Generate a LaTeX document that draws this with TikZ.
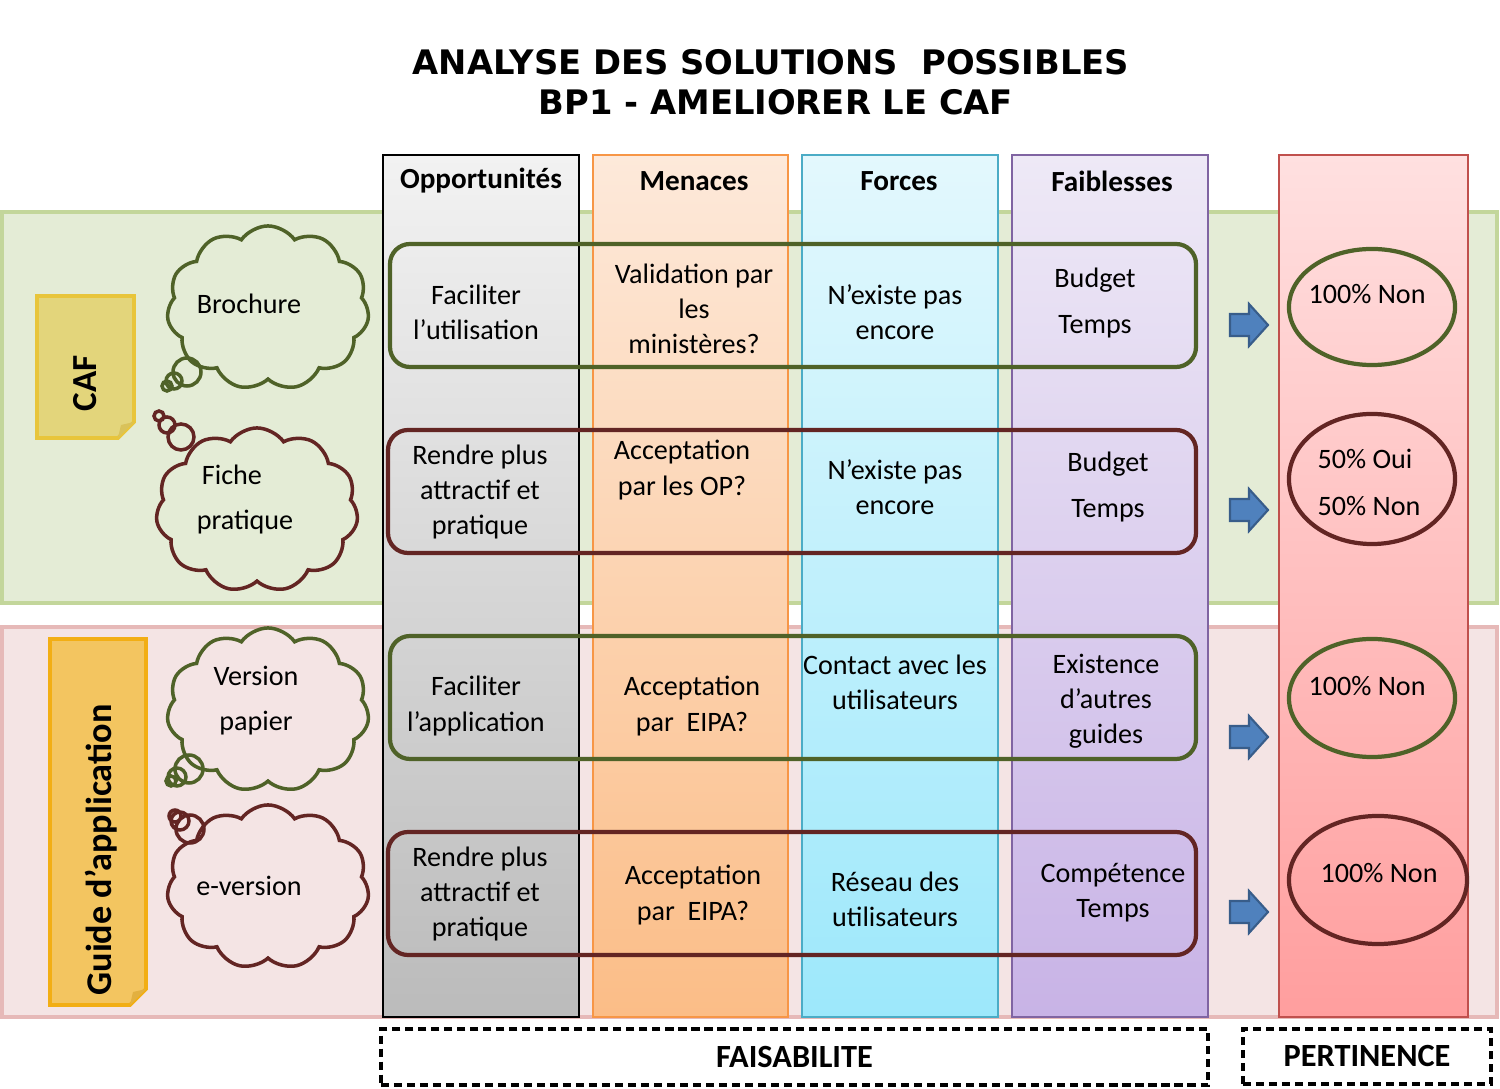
\documentclass[tikz,border=0pt]{standalone}
\usepackage{fontspec}
\setmainfont{Carlito}
\newfontfamily\titlefont{DejaVu Sans}
\usetikzlibrary{shapes.geometric,shapes.symbols}

\definecolor{leafgreen}{HTML}{4F6228}
\definecolor{winered}{HTML}{632523}
\definecolor{bandgreen}{HTML}{E4ECD6}
\definecolor{bandgreenline}{HTML}{C3D69B}
\definecolor{bandpink}{HTML}{F4E4E4}
\definecolor{bandpinkline}{HTML}{E6B9B8}
\definecolor{arrowblue}{HTML}{4F81BD}
\definecolor{arrowline}{HTML}{385D8A}
\definecolor{cafnote}{HTML}{E3D57B}
\definecolor{cafnoteline}{HTML}{E8C53B}
\definecolor{cafnotefold}{HTML}{D9C25A}
\definecolor{guidenote}{HTML}{F3C560}
\definecolor{guidenoteline}{HTML}{F2AE14}
\definecolor{guidenotefold}{HTML}{E2B040}

\begin{document}
\begin{tikzpicture}[x=0.01cm, y=-0.01cm,
    cell/.style={font=\fontsize{8}{10}\selectfont, align=center, inner sep=0pt},
    head/.style={font=\fontsize{8.3}{10}\selectfont\bfseries, inner sep=0pt},
    rowbox/.style={line width=1.2pt, rounded corners=0.2cm},
    bubble/.style={cloud, draw, line width=1pt, cloud puffs=11, cloud puff arc=110,
        aspect=1.2, minimum width=2.02cm, minimum height=1.64cm, inner sep=0pt},
    puff/.style={line width=1pt},
    verdict/.style={ellipse, draw, line width=1.2pt, inner sep=0pt},
    legend/.style={draw, line width=1.1pt, dash pattern=on 2.3pt off 1.4pt, inner sep=0pt,
        font=\fontsize{9.2}{10}\selectfont\bfseries}]

    \useasboundingbox [fill=white] (0, 0) rectangle (1500, 1089);

    % titre
    \node (title1) at (771, 62) [font=\titlefont\fontsize{9.6}{11}\selectfont\bfseries, inner sep=0pt]
        {ANALYSE DES SOLUTIONS \ POSSIBLES};
    \node (title2) at (776, 102) [font=\titlefont\fontsize{9.6}{11}\selectfont\bfseries, inner sep=0pt]
        {BP1 - AMELIORER LE CAF};

    % bandes
    \filldraw [fill=bandgreen, draw=bandgreenline, line width=1pt] (2, 212) rectangle (1497, 603);
    \filldraw [fill=bandpink, draw=bandpinkline, line width=1pt] (2, 627) rectangle (1497, 1017);

    % colonnes
    \foreach \xa/\xb/\top/\bot/\edge in {383/579/F2F2F2/BBBBBB/000000,
                                       593/788/FDE9DA/FBBD87/F79646,
                                       802/998/E3F8FD/9DE8FB/4BACC6,
                                       1012/1208/EEE9F6/C8B3E6/8064A2,
                                       1279/1468/FFE0E0/FF9E9E/C0504D} {
        \definecolor{ctop}{HTML}{\top}
        \definecolor{cbot}{HTML}{\bot}
        \definecolor{cedge}{HTML}{\edge}
        \shadedraw [top color=ctop, bottom color=cbot, draw=cedge, line width=0.8pt]
            (\xa, 155) rectangle (\xb, 1017);
    }

    \foreach \x/\name/\word in {481/hopp/Opportunités, 694/hmen/Menaces, 899/hfor/Forces, 1112/hfai/Faiblesses} {
        \node (\name) at (\x, 181) [head] {\word};
    }

    % lignes
    \draw [rowbox, leafgreen] (390, 244) rectangle (1196, 367);
    \draw [rowbox, winered] (388, 430) rectangle (1196, 553);
    \draw [rowbox, leafgreen] (390, 636) rectangle (1196, 759);
    \draw [rowbox, winered] (388, 832) rectangle (1196, 955);

    % Brochure
    \node (o1) at (476, 312) [cell] {Faciliter\\l’utilisation};
    \node (m1) at (694, 309) [cell] {Validation par\\les\\ministères?};
    \node (f1) at (895, 312) [cell] {N’existe pas\\encore};
    \node (w1a) at (1095, 280) [cell] {Budget};
    \node (w1b) at (1095, 327) [cell] {Temps};

    % Fiche pratique
    \node (o2) at (480, 492) [cell] {Rendre plus\\attractif et\\pratique};
    \node (m2) at (682, 470) [cell] {Acceptation\\par les OP?};
    \node (f2) at (895, 487) [cell] {N’existe pas\\encore};
    \node (w2a) at (1108, 464) [cell] {Budget};
    \node (w2b) at (1108, 511) [cell] {Temps};

    % Version papier
    \node (o3) at (476, 706) [cell] {Faciliter\\l’application};
    \node (m3) at (692, 706) [cell] {Acceptation\\par \ EIPA?};
    \node (f3) at (895, 682) [cell] {Contact avec les\\utilisateurs};
    \node (w3) at (1106, 701) [cell] {Existence\\d’autres\\guides};

    % e-version
    \node (o4) at (480, 894) [cell] {Rendre plus\\attractif et\\pratique};
    \node (m4) at (693, 895) [cell] {Acceptation\\par \ EIPA?};
    \node (f4) at (895, 899) [cell] {Réseau des\\utilisateurs};
    \node (w4) at (1113, 893) [cell] {Compétence\\Temps};

    % fleches
    \foreach \y in {325, 510, 737, 912} {
        \filldraw [fill=arrowblue, draw=arrowline, line width=0.6pt]
            (1230, \y - 11) -- (1249, \y - 11) -- (1249, \y - 21) -- (1268, \y)
            -- (1249, \y + 21) -- (1249, \y + 11) -- (1230, \y + 11) -- cycle;
    }

    % pertinence
    \node (e1) at (1372, 307) [verdict, leafgreen, minimum width=1.66cm, minimum height=1.16cm] {};
    \node (e2) at (1372, 479) [verdict, winered, minimum width=1.66cm, minimum height=1.30cm] {};
    \node (e3) at (1372, 698) [verdict, leafgreen, minimum width=1.66cm, minimum height=1.18cm] {};
    \node (e4) at (1378, 880) [verdict, winered, minimum width=1.78cm, minimum height=1.28cm] {};
    \node (p1) at (1367, 294) [cell] {100\% Non};
    \node (p2a) at (1365, 459) [cell] {50\% Oui};
    \node (p2b) at (1369, 506) [cell] {50\% Non};
    \node (p3) at (1367, 686) [cell] {100\% Non};
    \node (p4) at (1379, 873) [cell] {100\% Non};

    % notes
    \filldraw [fill=cafnote, draw=cafnoteline, line width=1.1pt]
        (37, 296) -- (134, 296) -- (134, 422) -- (118, 438) -- (37, 438) -- cycle;
    \fill [cafnotefold] (118, 438) -- (121, 425) -- (134, 422) -- cycle;
    \node (caf) at (85, 383) [rotate=90, font=\fontsize{10}{12}\selectfont\bfseries, inner sep=0pt] {CAF};

    \filldraw [fill=guidenote, draw=guidenoteline, line width=1.1pt]
        (50, 639) -- (146, 639) -- (146, 989) -- (130, 1005) -- (50, 1005) -- cycle;
    \fill [guidenotefold] (130, 1005) -- (133, 992) -- (146, 989) -- cycle;
    \node (guide) at (101, 850) [rotate=90, font=\fontsize{10.3}{12}\selectfont\bfseries, inner sep=0pt] {Guide d’application};

    % nuages
    \node (c1) at (268, 308) [bubble, leafgreen, fill=bandgreen] {};
    \node (c2) at (257, 510) [bubble, winered, fill=bandgreen] {};
    \node (c3) at (268, 710) [bubble, leafgreen, fill=bandpink] {};
    \node (c4) at (268, 887) [bubble, winered, fill=bandpink] {};

    \draw [puff, leafgreen] (187, 372) circle (14) (174, 381) circle (8) (167, 386) circle (5);
    \draw [puff, winered] (181, 437) circle (13) (167, 425) circle (8) (159, 416) circle (5);
    \draw [puff, leafgreen] (189, 769) circle (14) (177, 777) circle (9) (171, 781) circle (5);
    \draw [puff, winered] (190, 829) circle (14) (180, 821) circle (9) (175, 816) circle (6);

    \node (t1) at (249, 304) [cell] {Brochure};
    \node (t2a) at (232, 475) [cell] {Fiche};
    \node (t2b) at (245, 522) [cell] {pratique};
    \node (t3a) at (256, 676) [cell] {Version};
    \node (t3b) at (256, 723) [cell] {papier};
    \node (t4) at (249, 886) [cell] {e-version};

    % legende
    \node (fais) at (794.5, 1057) [legend, minimum width=8.27cm, minimum height=0.56cm] {FAISABILITE};
    \node (pert) at (1367, 1056.5) [legend, minimum width=2.48cm, minimum height=0.55cm] {PERTINENCE};
\end{tikzpicture}
\end{document}
